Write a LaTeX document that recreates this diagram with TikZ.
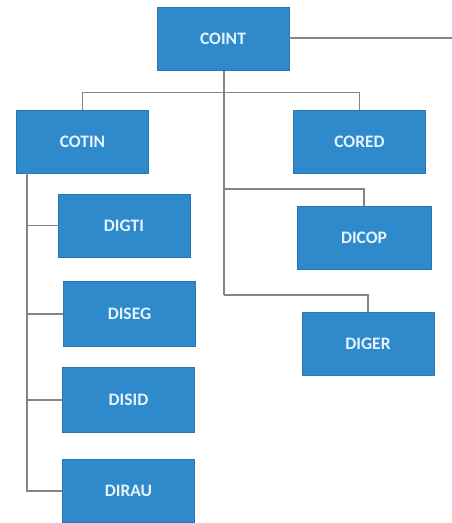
\documentclass[tikz,border=0pt]{standalone}
\usepackage{fontspec}
\setmainfont{Carlito}
\definecolor{boxblue}{HTML}{2F8ACB}
\definecolor{boxedge}{HTML}{2A76AE}
\definecolor{linegray}{HTML}{858585}
\definecolor{txt}{HTML}{E6F3FF}
\begin{document}
\begin{tikzpicture}[x=1pt,y=-1pt,
  orgbox/.style={draw=boxedge,line width=0.8pt,fill=boxblue,text=txt,
    font=\fontsize{17.5}{19}\selectfont\bfseries,minimum width=132pt,minimum height=63pt,inner sep=0pt},
  conn/.style={draw=linegray,line width=1.6pt}]
\useasboundingbox[fill=white] (0,0) rectangle (452,523);
\node[orgbox] (COINT) at (223,39) {COINT};
\node[orgbox] (COTIN) at (82.5,141.5) {COTIN};
\node[orgbox] (CORED) at (359.5,141.5) {CORED};
\node[orgbox] (DIGTI) at (124,225.5) {DIGTI};
\node[orgbox,minimum height=65pt] (DISEG) at (129.5,314) {DISEG};
\node[orgbox,minimum height=65pt] (DISID) at (128.5,400) {DISID};
\node[orgbox] (DIRAU) at (128.5,491) {DIRAU};
\node[orgbox,minimum width=134pt] (DICOP) at (364,237.5) {DICOP};
\node[orgbox] (DIGER) at (368,343.5) {DIGER};
\coordinate (OUT) at (452,38);
\coordinate (T1) at (224,189);
\coordinate (T2) at (224,295);
\coordinate (L) at (27,173);
\draw[conn] (COINT.east |- OUT) -- (OUT);
\draw[conn] (COTIN.north) -- ++(0,-17) -| (CORED.north);
\draw[conn] (T2 |- COINT.south) -- (T2);
\draw[conn] (T1) -| (DICOP.north);
\draw[conn] (T2) -| (DIGER.north);
\draw[conn] (L) |- (DIRAU.west);
\draw[conn] (L) |- (DIGTI.west);
\draw[conn] (L) |- (DISEG.west);
\draw[conn] (L) |- (DISID.west);
\end{tikzpicture}
\end{document}
